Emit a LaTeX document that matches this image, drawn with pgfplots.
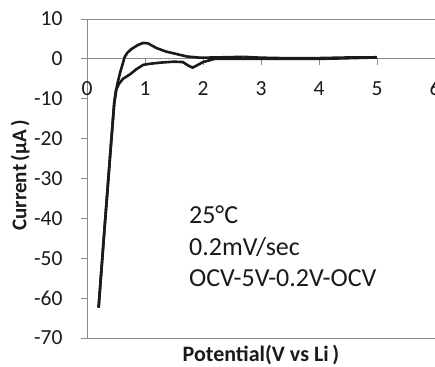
\documentclass[border=0pt]{standalone}
\usepackage{pgfplots}
\pgfplotsset{compat=1.18}
\usepackage{fontspec}
\setmainfont{Carlito}
\definecolor{axgray}{HTML}{8C8C8C}
\definecolor{ink}{HTML}{1A1A1A}
\begin{document}
\begin{tikzpicture}
\begin{axis}[
  at={(0,0)}, anchor=south west,
  scale only axis, width=348pt, height=319pt,
  xmin=0, xmax=6, ymin=-70, ymax=10,
  axis x line=middle, axis y line=left,
  axis line style={-, axgray, line width=0.9pt},
  hide obscured x ticks=false, hide obscured y ticks=false,
  xtick={0,1,2,3,4,5,6}, ytick={-70,-60,-50,-40,-30,-20,-10,0,10},
  tick align=outside, major tick length=6pt,
  tick style={axgray, line width=0.9pt},
  extra y ticks={-70,10}, extra y tick labels={\empty,\empty},
  extra y tick style={grid=major, major grid style={axgray, line width=0.9pt}},
  /pgf/number format/assume math mode=true,
  xticklabel style={font=\fontsize{21.5}{25}\selectfont, text=ink, yshift=-13pt},
  every y tick label/.append style={font=\fontsize{21.5}{25}\selectfont, text=ink, xshift=-15pt},
  ylabel={\textbf{Current\,(μA\,)}},
  ylabel style={at={(axis description cs:-0.192,0.51)}, anchor=center, font=\fontsize{21}{25}\selectfont, text=ink},
  xlabel={\textbf{Potential(V vs Li\,)}},
  xlabel style={at={(axis description cs:0.5,-0.053)}, anchor=center, font=\fontsize{22}{26}\selectfont, text=ink},
  clip=false,
]
% OCV -> 5 V
\addplot[ink, line width=2.6pt] coordinates {
(2.7,0.5) (3.0,0.3) (3.5,0.15) (4.0,0.2) (4.5,0.35) (5.0,0.4)};
% 5 V -> 0.2 V
\addplot[ink, line width=2.6pt, line join=round] coordinates {
(5.0,0.35) (4.2,0.05) (3.5,0) (3.0,0) (2.4,0) (2.2,0) (2.1,-0.4) (2.0,-0.8)
(1.9,-1.6) (1.82,-2.2) (1.75,-1.7) (1.65,-0.8) (1.5,-0.7) (1.3,-0.9)
(1.1,-1.2) (0.97,-1.5) (0.85,-2.6) (0.75,-3.8) (0.62,-5) (0.55,-6.3)
(0.5,-7.8) (0.47,-11) (0.4,-24) (0.3,-43) (0.2,-62.4)};
% 0.2 V -> OCV
\addplot[ink, line width=2.6pt, line join=round] coordinates {
(0.2,-62.4) (0.3,-43) (0.4,-24) (0.47,-11) (0.52,-6.5) (0.57,-3.5)
(0.6,-2) (0.65,0.5) (0.7,1.6) (0.77,2.5) (0.88,3.5) (0.97,4.0) (1.05,3.9)
(1.2,2.7) (1.37,1.8) (1.55,1.2) (1.72,0.6) (1.95,0.3) (2.2,0.35) (2.5,0.45) (2.7,0.5)};
\node[anchor=west, font=\fontsize{26}{30}\selectfont, text=ink] at (axis cs:1.7,-39.1) {25°C};
\node[anchor=west, font=\fontsize{26}{30}\selectfont, text=ink] at (axis cs:1.7,-47.1) {0.2mV/sec};
\node[anchor=west, font=\fontsize{26}{30}\selectfont, text=ink] at (axis cs:1.7,-54.9) {OCV-5V-0.2V-OCV};
\end{axis}
\pgfresetboundingbox
\useasboundingbox (-87pt,-28pt) rectangle (348pt,338pt);
\end{tikzpicture}
\end{document}
